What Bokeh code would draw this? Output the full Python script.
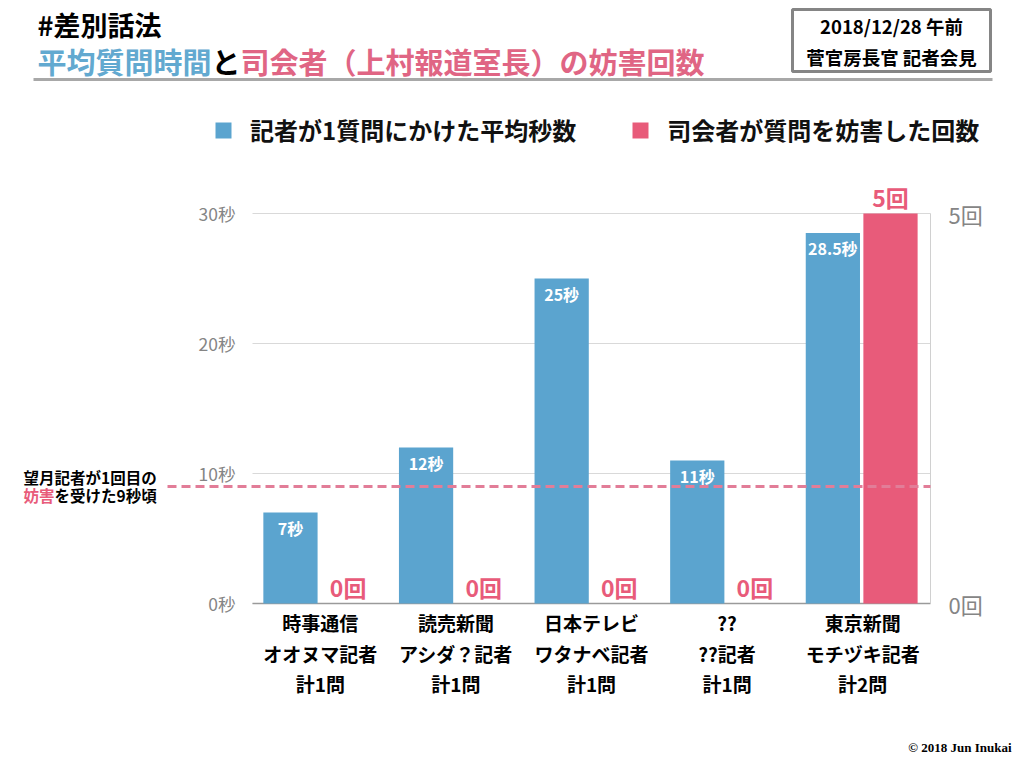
from bokeh.plotting import figure
from bokeh.models import (ColumnDataSource, Range1d, LinearAxis, FixedTicker,
                          Label, LabelSet, Arrow, Legend, LegendItem)
from bokeh.core.properties import value
from bokeh.embed import file_html
from bokeh.resources import INLINE

# ---- data ----
outlets = ["時事通信", "読売新聞", "日本テレビ", "??", "東京新聞"]
reporters = ["オオヌマ記者", "アシダ？記者", "ワタナベ記者", "??記者", "モチヅキ記者"]
question_totals = ["計1問", "計1問", "計1問", "計1問", "計2問"]
avg_seconds = [7, 12, 25, 11, 28.5]
interruptions = [0, 0, 0, 0, 5]
sec_ticks = [0, 10, 20, 30]
cnt_ticks = [0, 5]
threshold_sec = 9

FONT = "Noto Sans CJK JP"
BLUE = "#5ba4cf"
PINK = "#e85b7a"
GRAY = "#858585"

# chart area in picture pixels; the frame covers the whole canvas
W, H = 1016, 760
FL, FR, FT, FB = 252, 930, 213, 603
n = len(outlets)
xpu = (FR - FL) / n
ypu = (FB - FT) / max(sec_ticks)
cpu = (FB - FT) / max(cnt_ticks)


def X(px):
    return (px - FL) / xpu


def Y(py):
    return (FB - py) / ypu


p = figure(width=W, height=H, output_backend="svg", toolbar_location=None,
           x_range=Range1d(X(0), X(W)), y_range=Range1d(Y(H), Y(0)),
           min_border=0, outline_line_color=None,
           background_fill_color="white", border_fill_color="white")
p.extra_y_ranges = {"cnt": Range1d(-(H - FB) / cpu, FB / cpu)}
p.xaxis.visible = False
p.yaxis.visible = False
p.grid.visible = False

centers = [i + 0.5 for i in range(n)]
src = ColumnDataSource(dict(
    xb=[c - 0.22 for c in centers],
    xp=[c + 0.205 for c in centers],
    xc=centers,
    sec=avg_seconds,
    cnt=interruptions,
    sec_lbl=[f"{v:g}秒" for v in avg_seconds],
    cnt_lbl=[f"{v}回" for v in interruptions],
    outlet=outlets,
    reporter=reporters,
    total=question_totals,
    zero=[0] * n,
))
grid_src = ColumnDataSource(dict(y=sec_ticks, x0=[0] * len(sec_ticks),
                                 x1=[n] * len(sec_ticks)))


def style_axis(ax, size):
    ax.axis_line_color = None
    ax.major_tick_line_color = None
    ax.minor_tick_line_color = None
    ax.major_label_text_font = FONT
    ax.major_label_text_font_size = size
    ax.major_label_text_color = GRAY


la = LinearAxis(ticker=FixedTicker(ticks=sec_ticks), fixed_location=0)
la.major_label_overrides = {t: f"{t}秒" for t in sec_ticks}
style_axis(la, "17.5px")
la.major_label_standoff = 11
p.add_layout(la, "left")

ra = LinearAxis(y_range_name="cnt", ticker=FixedTicker(ticks=cnt_ticks), fixed_location=n)
ra.major_label_overrides = {t: f"{t}回" for t in cnt_ticks}
style_axis(ra, "22px")
ra.major_label_standoff = 12
p.add_layout(ra, "right")

# grid lines, baseline, right edge
p.segment(x0="x0", y0="y", x1="x1", y1="y", source=grid_src, line_color="#d9d9d9", line_width=1)
p.segment(x0=[0], y0=[0], x1=[n], y1=[0], line_color="#9a9a9a", line_width=1.5)
p.segment(x0=[n], y0=[0], x1=[n], y1=[max(sec_ticks)], line_color="#d0d0d0", line_width=1)

# bars
rb = p.vbar(x="xb", top="sec", width=0.4, source=src, color=BLUE, line_color=None)
rp = p.vbar(x="xp", top="cnt", width=0.4, source=src, color=PINK, line_color=None,
            y_range_name="cnt")

# threshold dashed line
p.add_layout(Arrow(end=None, x_start=X(167), y_start=threshold_sec, x_end=n,
                   y_end=threshold_sec, line_color="#e27d98", line_width=3,
                   line_dash="9 5"))

# value labels
p.add_layout(LabelSet(x="xb", y="sec", text="sec_lbl", source=src, text_align="center",
                      text_baseline="middle", y_offset=-15, text_color="white",
                      text_font=value(FONT), text_font_style="bold", text_font_size="16px"))
p.add_layout(LabelSet(x="xp", y="cnt", text="cnt_lbl", source=src, y_range_name="cnt",
                      text_align="center", text_baseline="middle", y_offset=17,
                      text_color=PINK, text_font=value(FONT), text_font_style="bold",
                      text_font_size="23px"))

# category labels, three rows
for col, off in (("outlet", -19), ("reporter", -50), ("total", -80)):
    p.add_layout(LabelSet(x="xc", y="zero", text=col, source=src, text_align="center",
                          text_baseline="middle", y_offset=off, text_color="black",
                          text_font=value(FONT), text_font_style="bold",
                          text_font_size="19px"))

# legend
legend = Legend(items=[LegendItem(label="記者が1質問にかけた平均秒数", renderers=[rb]),
                       LegendItem(label="司会者が質問を妨害した回数", renderers=[rp])],
                orientation="horizontal", location=(213, H - 147),
                glyph_width=20, glyph_height=20, label_standoff=17, spacing=54,
                padding=0, margin=0, border_line_color=None,
                background_fill_alpha=0, label_text_font=FONT,
                label_text_font_style="bold", label_text_font_size="24px",
                label_text_color="#111111")
p.add_layout(legend, "center")


def lab(text, px, py, size, color="black", align="left", font=FONT, **kw):
    p.add_layout(Label(x=X(px), y=Y(py), text=text, text_align=align,
                       text_baseline="middle", text_font=font, text_font_style="bold",
                       text_font_size=f"{size}px", text_color=color, **kw))


# titles
lab("#差別話法", 37, 24, 27)
lab("平均質問時間", 37, 60, 29, "#62a9d0")
lab("と", 211, 60, 29)
lab("司会者（上村報道室長）の妨害回数", 240, 60, 29, "#e06584")
p.add_layout(Arrow(end=None, x_start=X(33), y_start=Y(79), x_end=X(992), y_end=Y(79),
                   line_color="#a8a8a8", line_width=3))

# date box
p.quad(left=[X(792)], right=[X(990)], top=[Y(9)], bottom=[Y(71)],
       fill_color="white", line_color=GRAY, line_width=3)
lab("2018/12/28 午前", 891, 25, 18.5, align="center")
lab("菅官房長官 記者会見", 891, 56, 18.5, align="center")

# threshold note
lab("望月記者が1回目の", 23, 476, 15.5)
lab("妨害", 23, 494, 15.5, PINK)
lab("を受けた9秒頃", 54, 494, 15.5)

# copyright
lab("© 2018 Jun Inukai", 1011, 747, 13, align="right", font="Liberation Serif")

open("out.html", "w").write(file_html(p, INLINE))
